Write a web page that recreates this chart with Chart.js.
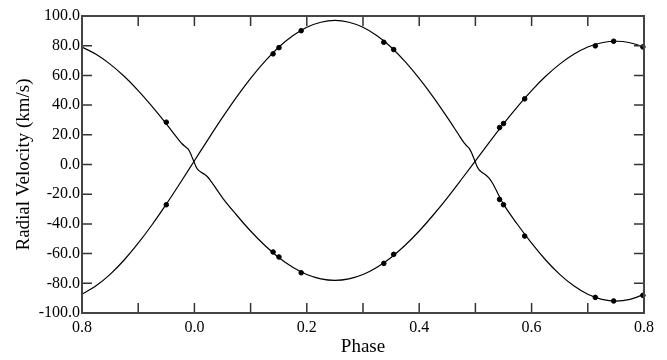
<!DOCTYPE html>
<html>
<head>
<meta charset="utf-8">
<script src="https://cdn.jsdelivr.net/npm/chart.js@4/dist/chart.umd.min.js"></script>
<style>
  html, body { margin: 0; padding: 0; background: #fff; }
  #wrap { width: 667px; height: 360px; }
</style>
</head>
<body>
<div id="wrap"><canvas id="rv-chart"></canvas></div>
<script>
// model curve of star A (the one at -78 km/s near phase 0.25)
const curvePhaseA = [-0.2, -0.175, -0.15, -0.125, -0.1, -0.075, -0.05, -0.03, -0.022, -0.016, -0.011, -0.007, -0.003, 0.0,
  0.003, 0.007, 0.012, 0.018, 0.024, 0.03, 0.05, 0.075, 0.1, 0.125, 0.15, 0.175, 0.2, 0.225, 0.25, 0.275, 0.3, 0.325,
  0.35, 0.375, 0.4, 0.425, 0.45, 0.475, 0.5, 0.525, 0.55, 0.575, 0.6, 0.625, 0.65, 0.675, 0.7, 0.725, 0.75, 0.775, 0.8];
const curveVelA = [79.1, 74.2, 67.6, 59.4, 49.8, 39.0, 27.4, 17.6, 14.0, 12.0, 10.3, 7.5, 3.8, 1.2,
  -1.6, -3.8, -5.2, -6.6, -8.6, -11.6, -22.4, -34.0, -44.8, -54.4, -62.6, -69.2, -74.1, -77.0, -78.0, -77.0, -74.1, -69.2,
  -62.6, -54.4, -44.8, -34.0, -22.4, -10.1, 2.5, 15.1, 27.4, 39.0, 49.8, 59.4, 67.6, 74.2, 79.1, 82.0, 83.0, 82.0, 79.1];

// model curve of star B (the one at +97 km/s near phase 0.25)
const curvePhaseB = [-0.2, -0.175, -0.15, -0.125, -0.1, -0.075, -0.05, -0.025, 0.0, 0.025, 0.05, 0.075, 0.1, 0.125,
  0.15, 0.175, 0.2, 0.225, 0.25, 0.275, 0.3, 0.325, 0.35, 0.375, 0.4, 0.425, 0.45, 0.47, 0.478, 0.484, 0.489, 0.493,
  0.497, 0.5, 0.503, 0.507, 0.512, 0.518, 0.524, 0.53, 0.55, 0.575, 0.6, 0.625, 0.65, 0.675, 0.7, 0.725, 0.75, 0.775, 0.8];
const curveVelB = [-87.4, -81.7, -74.0, -64.3, -53.0, -40.4, -26.7, -12.3, 2.5, 17.3, 31.7, 45.4, 58.0, 69.3,
  79.0, 86.7, 92.4, 95.8, 97.0, 95.8, 92.4, 86.7, 79.0, 69.3, 58.0, 45.4, 31.7, 20.2, 15.6, 12.8, 10.8, 8.0,
  4.3, 1.5, -1.4, -3.8, -5.4, -6.9, -9.0, -12.3, -26.7, -40.4, -53.0, -64.3, -74.0, -81.7, -87.4, -90.8, -92.0, -90.8, -87.4];

// measured velocities
const obsPhase = [-0.05, 0.140, 0.1505, 0.190, 0.337, 0.3546, 0.543, 0.550, 0.5877, 0.7134, 0.746, 0.798];
const obsVelA = [28.5, -58.9, -62.3, -72.9, -66.6, -60.5, 24.9, 27.6, 44.2, 79.9, 83.0, 79.2];
const obsVelB = [-27.1, 74.5, 78.7, 90.1, 82.3, 77.4, -23.5, -27.1, -48.2, -89.5, -91.9, -88.1];

const toPoints = (xs, ys) => xs.map((x, i) => ({ x: x, y: ys[i] }));

const serif = "'Liberation Serif', 'Times New Roman', serif";

// frame and inward ticks on all four sides
const framePlugin = {
  id: 'frame',
  afterDatasetsDraw(chart) {
    const { ctx, chartArea: a, scales } = chart;
    ctx.save();
    ctx.strokeStyle = '#333';
    ctx.lineWidth = 1.5;
    ctx.beginPath();
    scales.x.ticks.forEach(t => {
      const px = scales.x.getPixelForValue(t.value);
      ctx.moveTo(px, a.bottom); ctx.lineTo(px, a.bottom - 10);
      ctx.moveTo(px, a.top); ctx.lineTo(px, a.top + 10);
    });
    scales.y.ticks.forEach(t => {
      const py = scales.y.getPixelForValue(t.value);
      ctx.moveTo(a.left, py); ctx.lineTo(a.left + 10, py);
      ctx.moveTo(a.right, py); ctx.lineTo(a.right - 10, py);
    });
    ctx.stroke();
    ctx.lineWidth = 2;
    ctx.strokeStyle = '#444';
    ctx.strokeRect(a.left, a.top, a.right - a.left, a.bottom - a.top);
    ctx.restore();
  }
};

const lineStyle = { showLine: true, borderColor: '#000', borderWidth: 1.2, pointRadius: 0, cubicInterpolationMode: 'monotone', fill: false };
const dotStyle = { showLine: false, backgroundColor: '#000', borderColor: '#000', pointRadius: 2.3, clip: false };

const config = {
  type: 'scatter',
  data: {
    datasets: [
      Object.assign({ label: 'Model A', data: toPoints(curvePhaseA, curveVelA) }, lineStyle),
      Object.assign({ label: 'Model B', data: toPoints(curvePhaseB, curveVelB) }, lineStyle),
      Object.assign({ label: 'Star A', data: toPoints(obsPhase, obsVelA) }, dotStyle),
      Object.assign({ label: 'Star B', data: toPoints(obsPhase, obsVelB) }, dotStyle)
    ]
  },
  options: {
    responsive: true,
    maintainAspectRatio: false,
    animation: false,
    layout: { padding: { top: 16, right: 23, left: 0, bottom: 0 } },
    plugins: { legend: { display: false }, tooltip: { enabled: false } },
    scales: {
      x: {
        type: 'linear',
        min: -0.2,
        max: 0.8,
        afterFit: s => { s.height = 47; },
        grid: { display: false, drawTicks: false },
        border: { display: false },
        ticks: {
          stepSize: 0.1,
          padding: 5,
          color: '#000',
          font: { family: serif, size: 16 },
          maxRotation: 0,
          autoSkip: false,
          callback: v => {
            const k = Math.round(v * 10);
            if (k % 2 !== 0) return '';
            const p = k < 0 ? k + 10 : k;
            return (p / 10).toFixed(1);
          }
        },
        title: { display: true, text: 'Phase', color: '#000', font: { family: serif, size: 19 }, padding: { top: 0, bottom: 2 } }
      },
      y: {
        min: -100,
        max: 100,
        afterFit: s => { s.width = 82; },
        grid: { display: false, drawTicks: false },
        border: { display: false },
        ticks: {
          stepSize: 20,
          padding: 2,
          color: '#000',
          font: { family: serif, size: 16 },
          callback: v => v.toFixed(1)
        },
        title: { display: true, text: 'Radial Velocity (km/s)', color: '#000', font: { family: serif, size: 19 }, padding: { top: 13, bottom: 0 } }
      }
    }
  },
  plugins: [framePlugin]
};

window.onload = function() {
  const ctx = document.getElementById('rv-chart').getContext('2d');
  window.rvChart = new Chart(ctx, config);
};
</script>
</body>
</html>
